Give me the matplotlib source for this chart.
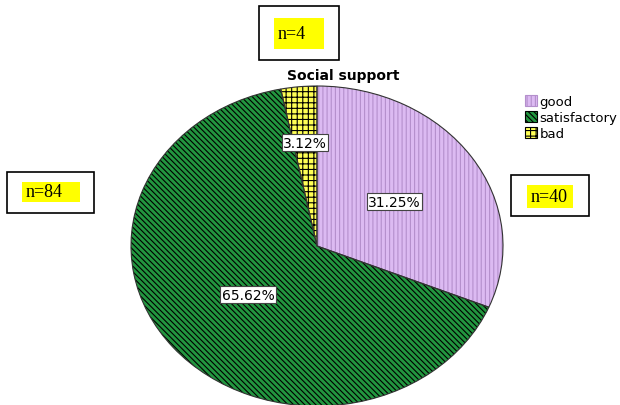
import numpy as np
import matplotlib
matplotlib.use("Agg")
import matplotlib.pyplot as plt
import matplotlib.patches as patches

# ---------------------------------------------------------------
# datos
# ---------------------------------------------------------------
categorias = ["good", "satisfactory", "bad"]
conteos = [40, 84, 4]
titulo = "Social support"

# estilo de cada sector
colores = ["#dcbaf2", "#22963f", "#ffff55"]
color_trama = ["#b48fcc", "black", "black"]
tramas = ["||||", "\\" * 6, "+++"]
dist_etiqueta = [0.5, 0.48, 0.65]

plt.rcParams["hatch.linewidth"] = 0.8

W, H = 620, 406
fig = plt.figure(figsize=(W / 100, H / 100), dpi=100)

# ejes en pixeles de la figura, centro del pie en (317, 247)
cx, cy, rx, ry = 317, 247, 186, 160
ax = fig.add_axes([0, 0, 1, 1])

wedges, _ = ax.pie(conteos, startangle=90, counterclock=False,
                   colors=colores, radius=1.0,
                   wedgeprops=dict(linewidth=0))
for w, h, c in zip(wedges, tramas, color_trama):
    w.set_hatch(h)
    w.set_edgecolor(c)

# contorno negro encima
contorno, _ = ax.pie(conteos, startangle=90, counterclock=False,
                     radius=1.0,
                     wedgeprops=dict(fill=False, edgecolor="#333333",
                                     linewidth=0.8))

total = sum(conteos)
for w, n, d in zip(wedges, conteos, dist_etiqueta):
    ang = np.deg2rad((w.theta1 + w.theta2) / 2)
    ax.text(d * np.cos(ang), d * np.sin(ang), "%.2f%%" % (100.0 * n / total),
            ha="center", va="center", fontsize=10, family="DejaVu Sans",
            bbox=dict(boxstyle="square,pad=0.1", facecolor="white",
                      edgecolor="#444444", linewidth=0.8))

ax.set_aspect("auto")
ax.set_xlim(-cx / rx, (W - cx) / rx)
ax.set_ylim(-(H - cy) / ry, cy / ry)
ax.axis("off")

fig.text(343 / W, 1 - 76 / H, titulo, ha="center", va="center",
         fontsize=10, fontweight="bold", family="DejaVu Sans")

# leyenda
handles = []
for c, h, hc in zip(colores, tramas, color_trama):
    p = patches.Rectangle((0, 0), 1, 1, facecolor=c, hatch=h, edgecolor=hc,
                          linewidth=0.8)
    handles.append(p)
fig.legend(handles, categorias, loc="upper left",
           bbox_to_anchor=(516 / W, 1 - 87 / H), frameon=False,
           handlelength=0.9, handleheight=0.9,
           handletextpad=0.2, labelspacing=0.2, borderpad=0.2,
           prop=dict(family="DejaVu Sans", size=9.5))

# cajas n=...
cajas = [
    # (caja x0, y0, x1, y1), (resaltado x0, y0, x1, y1)
    ((259, 7, 339, 61), (274, 19, 324, 50)),
    ((7, 173, 94, 214), (22, 183, 80, 203)),
    ((511, 176, 589, 217), (527, 186, 573, 209)),
]
orden = [2, 1, 0]  # bad, satisfactory, good
for (caja, resal), i in zip(cajas, orden):
    x0, y0, x1, y1 = caja
    fig.patches.append(patches.Rectangle(
        (x0 / W, 1 - y1 / H), (x1 - x0) / W, (y1 - y0) / H,
        transform=fig.transFigure, facecolor="white", edgecolor="black",
        linewidth=1.2))
    a0, b0, a1, b1 = resal
    fig.patches.append(patches.Rectangle(
        (a0 / W, 1 - b1 / H), (a1 - a0) / W, (b1 - b0) / H,
        transform=fig.transFigure, facecolor="#ffff00", edgecolor="none"))
    fig.text((a0 + 4) / W, 1 - (b0 + b1) / 2 / H, "n=%d" % conteos[i],
             ha="left", va="center", fontsize=13, family="Liberation Serif")

fig.savefig("out.png", dpi=100)
